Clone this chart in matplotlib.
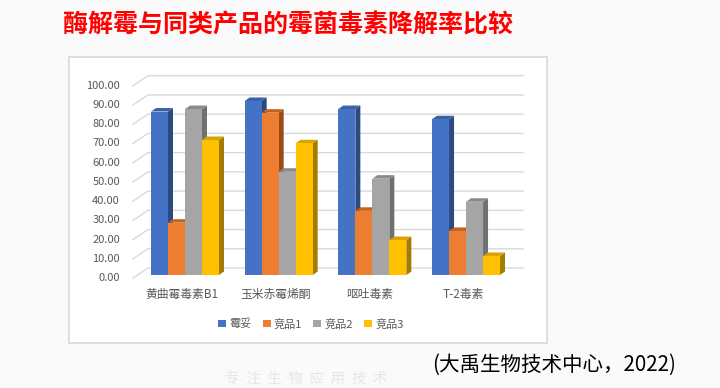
import matplotlib
matplotlib.use("Agg")
import matplotlib.pyplot as plt
from matplotlib.patches import Polygon, Rectangle
import numpy as np

plt.rcParams['font.family'] = ['Noto Sans CJK SC', 'DejaVu Sans']

# data
categories = ['黄曲霉毒素B1', '玉米赤霉烯酮', '呕吐毒素', 'T-2毒素']
series_names = ['霉妥', '竞品1', '竞品2', '竞品3']
meituo = [85.0, 90.5, 86.3, 81.0]
jingpin1 = [27.2, 84.4, 33.4, 22.9]
jingpin2 = [86.3, 53.7, 50.1, 38.1]
jingpin3 = [70.2, 68.5, 18.2, 9.9]
yticks = [0, 10, 20, 30, 40, 50, 60, 70, 80, 90, 100]

front = ['#4472C4', '#ED7D31', '#A5A5A5', '#FFC000']
side = ['#2B4A82', '#9A4A14', '#707070', '#A37B00']
top = ['#3A62A8', '#C4621F', '#8A8A8A', '#D9A300']

fig = plt.figure(figsize=(7.2, 3.88), dpi=100)
fig.patch.set_facecolor('#FAFAFA')

# chart frame
fig.patches.append(Rectangle((69/720, 1-343/388), (547-69)/720, (343-57)/388,
                             transform=fig.transFigure, facecolor='white',
                             edgecolor='#D9D9D9', linewidth=1.2, zorder=-5))

ax = fig.add_axes([133/720, 1-275/388, 390/720, 205/388])
ax.set_xlim(-0.555, 3.608)
ax.set_ylim(0, 106.6)
ax.axis('off')

px_x = 1/93.7    # data units per pixel, x
px_y = 1/1.923   # data units per pixel, y
dx, dy = 5*px_x, 3.5*px_y
width = 17*px_x

# back wall gridlines with slanted floor part
x0 = ax.get_xlim()[0]
for v in yticks:
    ax.plot([x0, x0 + 15*px_x, 3.608], [v - 1.6, v + 3.64, v + 3.64],
            color='#D9D9D9', lw=1, clip_on=False, zorder=1)
    ax.text(x0 - 13*px_x, v - 1.6, f'{v:.2f}', ha='right', va='center',
            fontsize=8, color='#595959')

x = np.arange(len(categories))
data = [meituo, jingpin1, jingpin2, jingpin3]
offsets = (np.arange(4) - 1.5) * width
for i, vals in enumerate(data):
    xs = x + offsets[i]
    ax.bar(xs, vals, width=width, color=front[i], zorder=3 + i * 0.01,
           label=series_names[i], linewidth=0)
    for xc, v in zip(xs, vals):
        r = xc + width/2
        l = xc - width/2
        ax.add_patch(Polygon([(r, 0), (r + dx, dy), (r + dx, v + dy), (r, v)],
                             closed=True, facecolor=side[i], edgecolor='none',
                             zorder=2.9 + i * 0.01))
        ax.add_patch(Polygon([(l, v), (l + dx, v + dy), (r + dx, v + dy), (r, v)],
                             closed=True, facecolor=top[i], edgecolor='none',
                             zorder=2.9 + i * 0.01))

for xc, c in zip(x, categories):
    ax.text(xc - 3*px_x, -10, c, ha='center', va='center', fontsize=8.5,
            color='#595959')

leg = fig.legend(loc='center', bbox_to_anchor=(311/720, 1-324/388), ncol=4,
                 frameon=False, fontsize=8, handlelength=0.7, handleheight=0.7,
                 handletextpad=0.3, columnspacing=1.0, labelcolor='#595959')

fig.text(63/720, 1-25/388, '酶解霉与同类产品的霉菌毒素降解率比较', fontsize=18,
         fontweight='heavy', color='#FF0000', va='center', ha='left')
fig.text(432/720, 1-365/388, '(大禹生物技术中心，2022)', fontsize=14.8,
         color='black', va='center', ha='left')
fig.text(306/720, 1-379/388, '专  注  生  物  应  用  技  术', fontsize=10.5,
         color='#E6E6E6', va='center', ha='center')

fig.savefig('out.png', dpi=100, facecolor=fig.get_facecolor())
